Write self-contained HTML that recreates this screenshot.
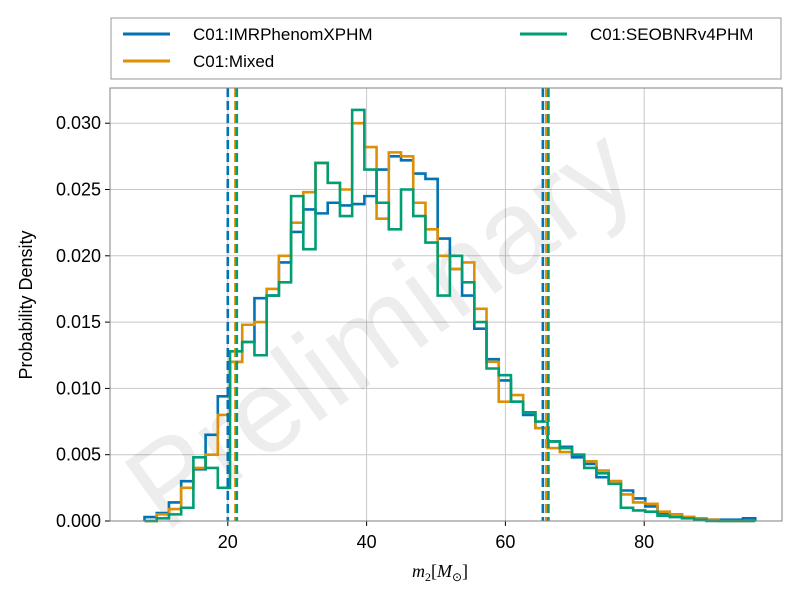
<!DOCTYPE html>
<html><head><meta charset="utf-8"><style>
body{margin:0;background:#fff;}
svg{display:block;font-family:"Liberation Sans",sans-serif;}
</style></head><body>
<svg id="chart" width="800" height="600" viewBox="0 0 800 600">
<rect x="0" y="0" width="800" height="600" fill="#fff"/>
<g id="grid"></g>
<text x="0" y="0" transform="translate(385,335) rotate(-36)" text-anchor="middle" dominant-baseline="middle" font-size="118" fill="#000" fill-opacity="0.07">Preliminary</text>
<g id="bars"></g>
<g id="axes"></g>
<rect x="110" y="88" width="672" height="433" fill="none" stroke="#808080" stroke-width="1"/>
<text transform="translate(32,305) rotate(-90)" text-anchor="middle" font-size="18">Probability Density</text>
<text x="440" y="577" text-anchor="middle" font-family="'Liberation Serif',serif" font-size="18" font-style="italic">m<tspan font-size="12" dy="4" font-style="normal">2</tspan><tspan dy="-4" font-style="normal">[</tspan>M<tspan font-size="12" dy="4" font-style="normal">⊙</tspan><tspan dy="-4" font-style="normal">]</tspan></text>
<g>
<rect x="111" y="18" width="670" height="61" fill="#fff" stroke="#999" stroke-width="1"/>
<line x1="123" y1="34" x2="170" y2="34" stroke="#0173b2" stroke-width="3"/>
<text x="193" y="40" font-size="17">C01:IMRPhenomXPHM</text>
<line x1="123" y1="61" x2="170" y2="61" stroke="#de8f05" stroke-width="3"/>
<text x="193" y="67" font-size="17">C01:Mixed</text>
<line x1="520" y1="34" x2="567" y2="34" stroke="#029e73" stroke-width="3"/>
<text x="590" y="40" font-size="17">C01:SEOBNRv4PHM</text>
</g>
</svg>
<script>
const binStart = 8;
const binWidth = 1.76;
const seriesNames = ["C01:IMRPhenomXPHM","C01:Mixed","C01:SEOBNRv4PHM"];
const seriesColors = ["#0173b2","#de8f05","#029e73"];
const imrValues = [0.3,0.6,1.4,3.0,3.9,6.5,9.4,12.0,13.5,16.8,17.0,19.5,21.8,23.5,23.2,24.0,23.8,23.9,24.5,26.5,27.5,27.2,26.2,25.8,21.3,19.0,17.0,14.5,12.2,10.6,9.0,8.0,7.0,6.0,5.6,4.8,4.3,3.3,3.0,2.3,1.7,1.1,0.6,0.5,0.3,0.2,0.1,0.1,0.1,0.2];
const mixedValues = [0,0.5,0.9,2.5,4.0,5.0,8.0,12.0,14.8,15.0,17.5,20.0,22.5,24.8,27.0,25.5,25.0,30.0,28.2,22.8,27.8,27.5,24.0,22.0,20.0,19.0,19.5,16.0,12.0,9.0,9.5,8.2,7.0,5.5,5.2,5.0,4.5,3.8,3.0,2.0,1.4,1.3,0.7,0.5,0.3,0.2,0.1,0,0,0];
const seobValues = [0,0.2,0.5,1.0,4.8,4.0,2.5,12.8,13.5,12.5,17.0,18.0,24.5,20.5,27.0,25.5,23.0,31.0,26.5,24.0,22.0,25.0,23.0,21.0,17.0,20.0,18.0,15.0,11.5,11.0,9.0,8.2,7.5,6.0,5.5,5.0,4.0,3.6,2.8,1.0,0.8,0.7,0.4,0.3,0.2,0.1,0,0,0,0];
const valueScale = 0.001;
const lowerBounds = [20.0,21.1,21.3];
const upperBounds = [65.4,65.9,66.2];
const xTicks = [20,40,60,80];
const yTicks = [0,0.005,0.010,0.015,0.020,0.025,0.030];
const yTickLabels = ["0.000","0.005","0.010","0.015","0.020","0.025","0.030"];

const X0=110,X1=782,Y0=521,Y1=88;
function xs(v){return 227.8+(v-20)*6.94;}
function ys(d){return 521-d*13260;}
const NS="http://www.w3.org/2000/svg";
function mk(t,a,p){const e=document.createElementNS(NS,t);for(const k in a)e.setAttribute(k,a[k]);p.appendChild(e);return e;}
const grid=document.getElementById('grid'),axes=document.getElementById('axes'),bars=document.getElementById('bars');
xTicks.forEach((t,i)=>{
  const g=mk('line',{x1:xs(t),x2:xs(t),y1:Y1,y2:Y0,stroke:'#c8c8c8','stroke-width':1},grid);
  
  
  const tk=mk('line',{x1:xs(t),x2:xs(t),y1:Y0,y2:Y0+5,stroke:'#000','stroke-width':1},axes);
  
  
  const tx=mk('text',{x:xs(t),y:548,'text-anchor':'middle','font-size':18},axes);
  tx.textContent=String(t);
  
  
});
yTicks.forEach((t,i)=>{
  const g=mk('line',{x1:X0,x2:X1,y1:ys(t),y2:ys(t),stroke:'#c8c8c8','stroke-width':1},grid);
  
  
  const tk=mk('line',{x1:X0-5,x2:X0,y1:ys(t),y2:ys(t),stroke:'#000','stroke-width':1},axes);
  
  
  const tx=mk('text',{x:X0-9,y:ys(t)+6,'text-anchor':'end','font-size':18},axes);
  tx.textContent=yTickLabels[i];
  
  
});
[imrValues,mixedValues,seobValues].forEach((vals,s)=>{
  let d='M'+xs(binStart)+','+ys(0);
  vals.forEach((v,k)=>{
    const a=binStart+k*binWidth,b=a+binWidth;
    d+=' L'+xs(a)+','+ys(v*valueScale)+' L'+xs(b)+','+ys(v*valueScale);
  });
  d+=' L'+xs(binStart+vals.length*binWidth)+','+ys(0);
  const p=mk('path',{d:d,fill:'none',stroke:seriesColors[s],'stroke-width':2.6,'stroke-linejoin':'miter'},bars);
  
  
});
[lowerBounds,upperBounds].forEach((arr,j)=>{
  arr.forEach((v,s)=>{
    const l=mk('line',{x1:xs(v),x2:xs(v),y1:Y1,y2:Y0,stroke:seriesColors[s],'stroke-width':2.6,'stroke-dasharray':'9,4'},bars);
    
    
  });
});
</script>
</body></html>
